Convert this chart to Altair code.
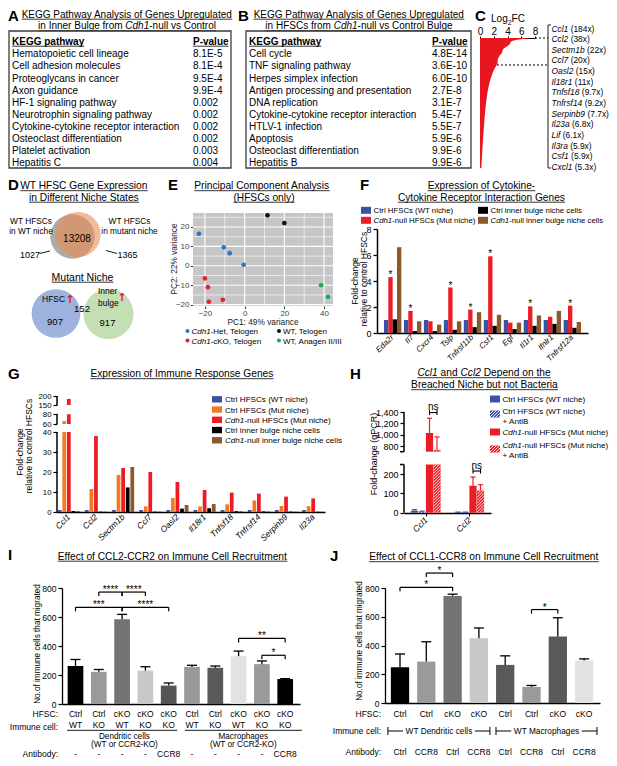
import math
import altair as alt
import pandas as pd

FONT = "Liberation Sans"
SYMBOL_FONT = "DejaVu Sans"

# ======================= DATA =======================
A_PATHWAYS = ["Hematopoietic cell lineage", "Cell adhesion molecules", "Proteoglycans in cancer",
              "Axon guidance", "HF-1 signaling pathway", "Neurotrophin signaling pathway",
              "Cytokine-cytokine receptor interaction", "Osteoclast differentiation",
              "Platelet activation", "Hepatitis C"]
A_PVALUES = ["8.1E-5", "8.1E-4", "9.5E-4", "9.9E-4", "0.002", "0.002", "0.002", "0.002", "0.003", "0.004"]

B_PATHWAYS = ["Cell cycle", "TNF signaling pathway", "Herpes simplex infection",
              "Antigen processing and presentation", "DNA replication",
              "Cytokine-cytokine receptor interaction", "HTLV-1 infection", "Apoptosis",
              "Osteoclast differentiation", "Hepatitis B"]
B_PVALUES = ["4.8E-14", "3.6E-10", "6.0E-10", "2.7E-8", "3.1E-7", "5.4E-7", "5.5E-7", "5.9E-6", "9.9E-6", "9.9E-6"]

C_RANK = [1, 2, 3, 4, 5, 6, 7, 8, 9, 10, 11, 12, 13, 14, 16, 18, 20, 22, 25, 29, 33, 38, 43, 49, 55, 63]
C_LOG2FC = [7.52, 5.25, 4.46, 4.32, 3.91, 3.46, 3.28, 3.20, 2.94, 2.77, 2.61, 2.56, 2.56, 2.41,
            2.05, 1.80, 1.60, 1.42, 1.20, 1.00, 0.85, 0.70, 0.58, 0.45, 0.33, 0.20]
C_GENES = ["Ccl1", "Ccl2", "Sectm1b", "Ccl7", "Oasl2", "Il18r1", "Tnfsf18", "Tnfrsf14",
           "Serpinb9", "Il23a", "Lif", "Il3ra", "Csf1", "Cxcl1"]
C_FOLDS = ["184x", "38x", "22x", "20x", "15x", "11x", "9.7x", "9.2x", "7.7x", "6.8x",
           "6.1x", "5.9x", "5.9x", "5.3x"]

VENN1_COUNTS = [1027, 13208, 1365]   # WT niche only, shared, mutant niche only
VENN2_COUNTS = [907, 152, 917]       # HFSC up only, shared, inner bulge up only

E_GROUP = ["het", "het", "het", "het", "cko", "cko", "cko", "cko", "wt", "wt", "ana", "ana"]
E_PC1 = [-23.0, -10.5, -7.5, -0.5, -20.0, -18.5, -18.0, -11.0, 11.5, 20.0, 38.5, 42.0]
E_PC2 = [16.5, 9.5, 6.5, 0.5, -6.5, -11.0, -18.5, -17.5, 26.0, 22.0, -10.0, -16.0]
E_ORDER = ["het", "cko", "wt", "ana"]

F_GENES = ["Eda2r", "Il7", "Cxcr4", "Tslp", "Tnfrsf11b", "Csf1", "Egf", "Il1r1", "Ifnlr1", "Tnfrsf12a"]
F_SERIES = ["ctrl_hfsc", "cdh1_hfsc", "ctrl_ib", "cdh1_ib"]
F_CTRL_HFSC = [1, 1, 1, 1, 1, 1, 1, 1, 1, 1]
F_CDH1_HFSC = [4.3, 1.7, 0.9, 3.5, 1.8, 5.9, 0.8, 2.05, 1.25, 2.1]
F_CTRL_IB = [1.05, 0.15, 0.15, 0.25, 0.45, 0.55, 0.3, 0.55, 0.7, 0.4]
F_CDH1_IB = [6.6, 0.9, 0.65, 0.9, 1.6, 1.4, 0.8, 1.35, 1.7, 0.85]
F_STAR = [True, True, False, True, True, True, False, True, False, True]

G_GENES = ["Ccl1", "Ccl2", "Sectm1b", "Ccl7", "Oasl2", "Il18r1", "Tnfsf18", "Tnfrsf14", "Serpinb9", "Il23a"]
G_SERIES = ["ctrl_wt", "ctrl_mut", "cdh1_mut", "ctrl_ib", "cdh1_ib"]
G_CTRL_WT = [1, 1, 1, 1, 1, 1, 1, 1, 1, 1]
G_CTRL_MUT = [66, 11.5, 18.5, 2.8, 7, 2.8, 3.8, 5.8, 3, 2.9]
G_CDH1_MUT = [184, 38, 22, 20, 15, 11, 9.7, 9.2, 7.7, 6.8]
G_CTRL_IB = [0.5, 0.2, 12.3, 0.2, 1.7, 1.9, 0.4, 0.3, 0.2, 0.1]
G_CDH1_IB = [0.5, 0.2, 22.5, 0.2, 3.5, 4.0, 0.4, 0.3, 0.2, 0.1]

H_GENES = ["Ccl1", "Ccl2"]
H_VALUES = [[10, 2], [5, 2], [1030, 140], [730, 115]]      # ctrl, ctrl+AntiB, cdh1, cdh1+AntiB
H_ERRORS = [[6, 1], [3, 1], [260, 45], [230, 30]]

I_HFSC = ["Ctrl", "Ctrl", "cKO", "cKO", "cKO", "Ctrl", "Ctrl", "cKO", "cKO", "cKO"]
I_IMMUNE = ["WT", "KO", "WT", "KO", "KO", "WT", "KO", "WT", "KO", "KO"]
I_ANTIBODY = ["-", "-", "-", "-", "CCR8", "-", "-", "-", "-", "CCR8"]
I_VALUES = [262, 222, 584, 230, 127, 255, 250, 330, 275, 172]
I_ERRORS = [45, 16, 34, 27, 18, 12, 12, 35, 22, 3]
I_SIG = [(1, 2, 772, "****"), (2, 3, 772, "****"), (0, 2, 667, "***"), (2, 4, 667, "****"),
         (7, 9, 452, "**"), (8, 9, 336, "*")]

J_HFSC = ["Ctrl", "Ctrl", "cKO", "cKO", "Ctrl", "Ctrl", "cKO", "cKO"]
J_ANTIBODY = ["Ctrl", "CCR8", "Ctrl", "CCR8", "Ctrl", "CCR8", "Ctrl", "CCR8"]
J_VALUES = [248, 288, 745, 450, 265, 112, 463, 295]
J_ERRORS = [93, 138, 12, 72, 63, 10, 130, 12]
J_SIG = [(1, 2, 904, "*"), (0, 2, 805, "*"), (5, 6, 650, "*")]

# ======================= STYLE =======================
BLUE = "#3a53a4"
RED = "#ec1c24"
ORANGE = "#f47a20"
BLACK = "#000000"
BROWN = "#8a5a2c"
F_COLORS = [BLUE, RED, BLACK, BROWN]
G_COLORS = [BLUE, ORANGE, RED, BLACK, BROWN]
H_COLORS = [BLUE, BLUE, RED, RED]
H_HATCHED = [False, True, False, True]
E_COLORS = ["#2a78c0", "#e3242b", "#111111", "#1fa85a"]
I_COLORS = ["#000000", "#9a9a9a", "#737373", "#c8c8c8", "#555555",
            "#9a9a9a", "#595959", "#e2e2e2", "#9a9a9a", "#000000"]
J_COLORS = ["#000000", "#9a9a9a", "#737373", "#c8c8c8", "#595959", "#9a9a9a", "#595959", "#e2e2e2"]

# ======================= TEXT METRICS (Arial-compatible) =======================
REG = {" ": 278, "!": 278, "(": 333, ")": 333, "*": 389, "+": 584, ",": 278, "-": 333, ".": 278,
       "/": 278, ":": 278, "%": 889}
for _c in "0123456789":
    REG[_c] = 556
REG.update(dict(zip("ABCDEFGHIJKLMNOPQRSTUVWXYZ",
                    [667, 667, 722, 722, 667, 611, 778, 722, 278, 500, 667, 556, 833, 722, 778, 667,
                     778, 722, 667, 611, 722, 667, 944, 667, 667, 611])))
REG.update(dict(zip("abcdefghijklmnopqrstuvwxyz",
                    [556, 556, 500, 556, 556, 278, 556, 556, 222, 222, 500, 222, 833, 556, 556, 556,
                     556, 333, 500, 278, 556, 500, 722, 500, 500, 500])))
BOLD = dict(REG)
BOLD.update(dict(zip("abcdefghijklmnopqrstuvwxyz",
                     [556, 611, 556, 611, 556, 333, 611, 611, 278, 278, 556, 278, 889, 611, 611, 611,
                      611, 389, 556, 333, 611, 556, 778, 556, 556, 500])))
BOLD.update({"A": 722, "B": 722, "K": 722})


def tw(s, size, bold=False):
    t = BOLD if bold else REG
    return sum(t.get(ch, 556) for ch in s) * size / 1000.0


ONE = [{"k": 0}]


def hatch_local(W, H, step=3.0):
    out = []
    c = -W + step * 0.5
    while c < H:
        us = max(0.0, -c)
        ue = min(W, H - c)
        if ue - us > 0.2:
            out.append((us, us + c, ue, ue + c))
        c += step
    return out


class Panel:
    """A panel whose view covers its whole box; the plot rectangle is placed with scale ranges."""

    def __init__(self, box, plot):
        self.bx0, self.by0, self.bx1, self.by1 = box
        self.px0, self.py0, self.px1, self.py1 = plot
        self.w = self.bx1 - self.bx0
        self.h = self.by1 - self.by0
        self.pw = self.px1 - self.px0
        self.ph = self.py1 - self.py0
        self.layers = []

    def X(self, ix):
        return float(ix - self.bx0)

    def Y(self, iy):
        return float(iy - self.by0)

    def xr(self):
        return [self.X(self.px0), self.X(self.px1)]

    def yr(self):
        return [self.Y(self.py1), self.Y(self.py0)]

    def off_left(self):
        return -float(self.px0 - self.bx0)

    def off_bottom(self):
        return -float(self.by1 - self.py1)

    def off_top(self):
        return -float(self.py0 - self.by0)

    def add(self, ch):
        self.layers.append(ch)

    def text(self, ix, iy, s, size=9.0, align="left", baseline="alphabetic", bold=False,
             italic=False, color="black", angle=None, font=FONT):
        kw = dict(font=font, fontSize=size, align=align, baseline=baseline, color=color)
        if bold:
            kw["fontWeight"] = "bold"
        if italic:
            kw["fontStyle"] = "italic"
        if angle is not None:
            kw["angle"] = angle
        self.add(alt.Chart(alt.Data(values=ONE)).mark_text(**kw).encode(
            x=alt.value(self.X(ix)), y=alt.value(self.Y(iy)), text=alt.value(s)))

    def rich(self, ix, iy, parts, size, align="left", underline=False, color="black", bold=False):
        widths = [tw(p, size, bold) for p, _ in parts]
        total = sum(widths)
        if align == "center":
            x0 = ix - total / 2.0
        elif align == "right":
            x0 = ix - total
        else:
            x0 = ix
        x = x0
        for (p, it), w in zip(parts, widths):
            s = p.strip(" ")
            lead = len(p) - len(p.lstrip(" "))
            if s:
                self.text(x + tw(" " * lead, size, bold), iy, s, size=size, italic=it, bold=bold, color=color)
            x += w
        if underline:
            self.line(x0, iy + 1.7, x0 + total, iy + 1.7, width=0.8, color=color)
        return x0, total

    def line(self, ix0, iy0, ix1, iy1, color="black", width=1.0, dash=None):
        kw = dict(color=color, strokeWidth=width)
        if dash:
            kw["strokeDash"] = dash
        self.add(alt.Chart(alt.Data(values=ONE)).mark_rule(**kw).encode(
            x=alt.value(self.X(ix0)), y=alt.value(self.Y(iy0)),
            x2=alt.value(self.X(ix1)), y2=alt.value(self.Y(iy1))))

    def rect(self, ix0, iy0, ix1, iy1, fill="black", stroke=None, sw=1.0, fill_opacity=1.0):
        kw = dict(fill=fill, fillOpacity=fill_opacity)
        if stroke:
            kw.update(stroke=stroke, strokeWidth=sw)
        self.add(alt.Chart(alt.Data(values=ONE)).mark_rect(**kw).encode(
            x=alt.value(self.X(ix0)), x2=alt.value(self.X(ix1)),
            y=alt.value(self.Y(iy0)), y2=alt.value(self.Y(iy1))))

    def circle(self, ix, iy, r, color, opacity=1.0):
        self.add(alt.Chart(alt.Data(values=ONE)).mark_circle(
            size=math.pi * r * r, color=color, opacity=opacity).encode(
            x=alt.value(self.X(ix)), y=alt.value(self.Y(iy))))

    def hatch_px(self, ix0, iy0, ix1, iy1, color="white", width=0.9, step=3.0):
        for (u0, t0, u1, t1) in hatch_local(ix1 - ix0, iy1 - iy0, step):
            self.line(ix0 + u0, iy1 - t0, ix0 + u1, iy1 - t1, color=color, width=width)

    def chart(self):
        bb = alt.Chart(alt.Data(values=ONE)).mark_rect(opacity=0).encode(
            x=alt.value(0), x2=alt.value(float(self.w)), y=alt.value(0), y2=alt.value(float(self.h)))
        return alt.layer(bb, *self.layers).properties(
            width=float(self.w), height=float(self.h)).resolve_axis(x="independent", y="independent")


def kegg_table(p, names, pvals, ix_name, ix_p):
    p.rect(p.px0, p.py0, p.px1, p.py1, fill="white", fill_opacity=0.0, stroke="#3c3c3c", sw=1.3)
    p.rich(ix_name, 43.5, [("KEGG pathway", False)], 10, bold=True, underline=True)
    p.rich(ix_p, 43.5, [("P-value", False)], 10, bold=True, underline=True)
    df = pd.DataFrame({"i": list(range(len(names))), "name": names, "p": pvals})
    ysc = alt.Scale(domain=[0, len(names) - 1], range=[p.Y(53.3), p.Y(162.3)], nice=False, zero=False)
    base = alt.Chart(df).encode(y=alt.Y("i:Q", scale=ysc, axis=None))
    p.add(base.mark_text(align="left", baseline="middle", font=FONT, fontSize=10).encode(
        x=alt.value(p.X(ix_name)), text="name:N"))
    p.add(base.mark_text(align="left", baseline="middle", font=FONT, fontSize=10).encode(
        x=alt.value(p.X(ix_p)), text="p:N"))


# ======================= PANEL A =======================
pA = Panel((8, 8, 238, 172), (9, 30, 231, 167))
pA.text(8, 19.5, "A", 15, bold=True)
pA.rich(127, 16.5, [("KEGG Pathway Analysis of Genes Upregulated", False)], 10, "center", underline=True)
pA.rich(127, 28, [("in Inner Bulge from ", False), ("Cdh1", True), ("-null vs Control", False)], 10,
        "center", underline=True)
kegg_table(pA, A_PATHWAYS, A_PVALUES, 12, 193)

# ======================= PANEL B =======================
pB = Panel((238, 8, 474, 172), (246, 30, 471, 167))
pB.text(238, 19.5, "B", 15, bold=True)
pB.rich(359, 16.5, [("KEGG Pathway Analysis of Genes Upregulated", False)], 10, "center", underline=True)
pB.rich(359, 28, [("in HFSCs from ", False), ("Cdh1", True), ("-null vs Control Bulge", False)], 10,
        "center", underline=True)
kegg_table(pB, B_PATHWAYS, B_PVALUES, 249, 432)

# ======================= PANEL C =======================
pC = Panel((474, 8, 609, 172), (480, 37, 535, 167))
pC.text(475, 19.5, "C", 15, bold=True)
_w1, _w2, _w3 = tw("Log", 10), tw("2", 7), tw("FC", 10)
_x0 = 508 - (_w1 + _w2 + _w3) / 2
pC.text(_x0, 21, "Log", 10)
pC.text(_x0 + _w1, 23.5, "2", 7)
pC.text(_x0 + _w1 + _w2, 21, "FC", 10)
cdf = pd.DataFrame({"rank": C_RANK, "fc": C_LOG2FC})
pC.add(alt.Chart(cdf).mark_area(orient="horizontal", color="#e8161e", interpolate="monotone").encode(
    y=alt.Y("rank:Q", scale=alt.Scale(domain=[1, 63], range=[pC.Y(37), pC.Y(167)], nice=False, zero=False),
            axis=None),
    x=alt.X("fc:Q", scale=alt.Scale(domain=[0, 8], range=pC.xr(), nice=False),
            axis=alt.Axis(orient="top", values=[0, 2, 4, 6, 8], title=None, labelFontSize=10,
                          tickSize=2, labelPadding=0, domainWidth=1.2, labelFlush=False, grid=False,
                          offset=pC.off_top()))))
pC.line(535, 37, 548, 37, dash=[2, 2], width=1)
pC.line(497, 64, 548, 64, dash=[2, 2], width=1)
pC.line(548, 24, 548, 167, width=0.9)
pC.line(548, 24, 551, 24, width=0.9)
pC.line(548, 167, 551, 167, width=0.9)
for _k, (_g, _f) in enumerate(zip(C_GENES, C_FOLDS)):
    _cy = 27.5 + _k * (166.0 - 27.5) / 13.0
    pC.rich(551.5, _cy + 3, [(_g, True), (" (" + _f + ")", False)], 8.4)

# ======================= PANEL D =======================
pD = Panel((8, 172, 165, 364), (8, 172, 165, 364))
pD.text(8, 189, "D", 15, bold=True)
pD.rich(84, 188, [("WT HFSC Gene Expression", False)], 10.2, "center", underline=True)
pD.rich(84, 199.5, [("in Different Niche States", False)], 10.2, "center", underline=True)
pD.circle(72.5, 235.5, 25, "#ababab")
pD.circle(78, 233.5, 25.5, "#ee8a4a", opacity=0.58)
pD.text(31, 223, "WT HFSCs", 8.3, align="center")
pD.text(31, 233, "in WT niche", 8.3, align="center")
pD.text(129.5, 223, "WT HFSCs", 8.3, align="center")
pD.text(129.5, 233, "in mutant niche", 8.3, align="center")
pD.text(77, 241, str(VENN1_COUNTS[1]), 10, align="center")
pD.text(30, 256.5, str(VENN1_COUNTS[0]), 9, align="center")
pD.text(127.5, 256.5, str(VENN1_COUNTS[2]), 9, align="center")
pD.line(39.5, 252.5, 50, 250, width=0.9)
pD.line(106, 249.5, 117, 252.5, width=0.9)
pD.rich(82.5, 279.5, [("Mutant Niche", False)], 10.5, "center", underline=True)
pD.circle(56, 312.5, 27.5, "#9db3dd")
pD.circle(108.5, 313, 28.3, "#b2d49c", opacity=0.75)
pD.text(42, 301, "HFSC", 8.5)
pD.text(70, 302, "↑", 11, align="center", color="#e3191c", bold=True, font=SYMBOL_FONT)
pD.text(98, 293, "Inner", 8.5)
pD.text(98, 305, "bulge", 8.5)
pD.text(122, 300, "↑", 11, align="center", color="#e3191c", bold=True, font=SYMBOL_FONT)
pD.text(55, 324, str(VENN2_COUNTS[0]), 9.5, align="center")
pD.text(82, 310.5, str(VENN2_COUNTS[1]), 9.5, align="center")
pD.text(107.5, 325, str(VENN2_COUNTS[2]), 9.5, align="center")

# ======================= PANEL E =======================
pE = Panel((165, 172, 345, 364), (193, 212, 333, 305))
pE.text(168, 189, "E", 15, bold=True)
pE.rich(262, 188, [("Principal Component Analysis", False)], 10.2, "center", underline=True)
pE.rich(264, 199.5, [("(HFSCs only)", False)], 10.2, "center", underline=True)
pE.rect(193, 212, 333, 305, fill="#c6c6c6")
exs = alt.Scale(domain=[-26, 44.5], range=pE.xr(), nice=False, zero=False)
eys = alt.Scale(domain=[-20.7, 27.2], range=pE.yr(), nice=False, zero=False)
for _vals, _wd in [([-10, 10, 30], 0.6), ([-20, 0, 20, 40], 1.1)]:
    pE.add(alt.Chart(pd.DataFrame({"v": _vals})).mark_rule(color="white", strokeWidth=_wd).encode(
        x=alt.X("v:Q", scale=exs, axis=None), y=alt.value(pE.Y(212)), y2=alt.value(pE.Y(305))))
for _vals, _wd in [([-15, -5, 5, 15, 25], 0.6), ([-20, -10, 0, 10, 20], 1.1)]:
    pE.add(alt.Chart(pd.DataFrame({"v": _vals})).mark_rule(color="white", strokeWidth=_wd).encode(
        y=alt.Y("v:Q", scale=eys, axis=None), x=alt.value(pE.X(193)), x2=alt.value(pE.X(333))))
_ecol = dict(zip(E_ORDER, E_COLORS))
edf = pd.DataFrame({"pc1": E_PC1, "pc2": E_PC2, "g": E_GROUP})
edf["col"] = [_ecol[g] for g in E_GROUP]
pE.add(alt.Chart(edf).mark_circle(size=22, opacity=1).encode(
    x=alt.X("pc1:Q", scale=exs, axis=alt.Axis(values=[-20, 0, 20, 40], title=None, grid=False, domain=False,
                                              tickColor="#333333", tickSize=2.5, labelFontSize=8,
                                              labelColor="#444444", labelPadding=1, labelFlush=False,
                                              offset=pE.off_bottom())),
    y=alt.Y("pc2:Q", scale=eys, axis=alt.Axis(values=[-20, -10, 0, 10, 20], title=None, grid=False,
                                              domain=False, tickColor="#333333", tickSize=2.5,
                                              labelFontSize=8, labelColor="#444444", labelPadding=1.5,
                                              labelFlush=False, offset=pE.off_left())),
    color=alt.Color("col:N", scale=None)))
pE.text(263, 324, "PC1: 49% variance", 8.3, align="center", color="#222222")
pE.text(175, 258, "PC2: 22% variance", 8.3, align="center", baseline="middle", angle=270, color="#222222")
pE.circle(187.5, 330, 2.3, E_COLORS[0])
pE.rich(191.5, 333, [("Cdh1", True), ("-Het, Telogen", False)], 8)
pE.circle(187.5, 339.5, 2.3, E_COLORS[1])
pE.rich(191.5, 342.5, [("Cdh1", True), ("-cKO, Telogen", False)], 8)
pE.circle(279, 330, 2.3, E_COLORS[2])
pE.rich(283, 333, [("WT, Telogen", False)], 8)
pE.circle(279, 339.5, 2.3, E_COLORS[3])
pE.rich(283, 342.5, [("WT, Anagen II/III", False)], 8)

# ======================= PANEL F =======================
pF = Panel((345, 172, 609, 364), (377, 228, 588, 332))
pF.text(360, 189, "F", 15, bold=True)
pF.rich(481.5, 188, [("Expression of Cytokine-", False)], 10.2, "center", underline=True)
pF.rich(481.5, 199.5, [("Cytokine Receptor Interaction Genes", False)], 10.2, "center", underline=True)
_fleg = [(361, 209.3, F_COLORS[0], [("Ctrl HFSCs (WT niche)", False)]),
         (361, 219.3, F_COLORS[1], [("Cdh1", True), ("-null HFSCs (Mut niche)", False)]),
         (478, 209.3, F_COLORS[2], [("Ctrl inner bulge niche cells", False)]),
         (478, 219.3, F_COLORS[3], [("Cdh1", True), ("-null inner bulge niche cells", False)])]
for _x, _y, _c, _parts in _fleg:
    pF.rect(_x, _y - 3.5, _x + 10, _y + 3.5, fill=_c)
    pF.rich(_x + 12.5, _y + 3, _parts, 7.8)
_frows = []
for _gi, _g in enumerate(F_GENES):
    for _s, _vals, _c in zip(F_SERIES, [F_CTRL_HFSC, F_CDH1_HFSC, F_CTRL_IB, F_CDH1_IB], F_COLORS):
        _frows.append({"gene": _g, "series": _s, "v": _vals[_gi], "col": _c,
                       "star": bool(F_STAR[_gi] and _s == F_SERIES[1])})
fdf = pd.DataFrame(_frows)
fxs = alt.Scale(domain=F_GENES, range=pF.xr(), paddingInner=0.13, paddingOuter=0.35)
fxo = alt.Scale(domain=F_SERIES, paddingInner=0.0, paddingOuter=0.0)
fys = alt.Scale(domain=[0, 8], range=pF.yr(), nice=False)
pF.add(alt.Chart(fdf).mark_bar().encode(
    x=alt.X("gene:N", scale=fxs, axis=alt.Axis(title=None, labelAngle=-45, labelAlign="right",
                                               labelBaseline="middle", labelFontStyle="italic",
                                               labelFontSize=8, ticks=False, labelPadding=3,
                                               domainWidth=1.5, offset=pF.off_bottom())),
    xOffset=alt.XOffset("series:N", scale=fxo),
    y=alt.Y("v:Q", scale=fys, axis=alt.Axis(values=[0, 2, 4, 6, 8], title=None, labelFontSize=9, tickSize=4,
                                            tickWidth=1.3, domainWidth=1.5, labelPadding=2,
                                            offset=pF.off_left())),
    color=alt.Color("col:N", scale=None)))
pF.add(alt.Chart(fdf[fdf["star"]]).mark_text(fontSize=10, baseline="alphabetic", dy=1, font=FONT).encode(
    x=alt.X("gene:N", scale=fxs, axis=None),
    xOffset=alt.XOffset("series:N", scale=fxo),
    y=alt.Y("v:Q", scale=fys, axis=None),
    text=alt.value("*")))
pF.text(355, 280, "Fold-change", 8.5, align="center", baseline="middle", angle=270)
pF.text(364, 278, "relative to control HFSCs", 8.5, align="center", baseline="middle", angle=270)

# ======================= PANEL G =======================
pG = Panel((8, 364, 345, 544), (57, 395, 325, 511))
pG.text(8, 378, "G", 15, bold=True)
pG.rich(182, 376, [("Expression of Immune Response Genes", False)], 10.2, "center", underline=True)
gys = alt.Scale(domain=[0, 40, 60, 80, 150, 200],
                range=[pG.Y(511), pG.Y(431), pG.Y(423), pG.Y(413.3), pG.Y(404), pG.Y(395)],
                nice=False, zero=False)
gxs = alt.Scale(domain=G_GENES, range=pG.xr(), paddingInner=0.17, paddingOuter=0.02)
gxo = alt.Scale(domain=G_SERIES, paddingInner=0.18, paddingOuter=0.05)
_grows = []
for _gi, _g in enumerate(G_GENES):
    for _s, _vals, _c in zip(G_SERIES, [G_CTRL_WT, G_CTRL_MUT, G_CDH1_MUT, G_CTRL_IB, G_CDH1_IB], G_COLORS):
        _v = _vals[_gi]
        _pieces = [(0, min(_v, 40))]
        if _v > 60:
            _pieces.append((60, min(_v, 80)))
        if _v > 150:
            _pieces.append((150, min(_v, 200)))
        for _lo, _hi in _pieces:
            _grows.append({"gene": _g, "series": _s, "lo": _lo, "hi": _hi, "col": _c})
gdf = pd.DataFrame(_grows)
pG.add(alt.Chart(gdf).mark_bar().encode(
    x=alt.X("gene:N", scale=gxs, axis=alt.Axis(title=None, labelAngle=-45, labelAlign="right",
                                               labelBaseline="middle", labelFontStyle="italic",
                                               labelFontSize=8.5, ticks=False, labelPadding=3,
                                               domainWidth=1.5, offset=pG.off_bottom())),
    xOffset=alt.XOffset("series:N", scale=gxo),
    y=alt.Y("lo:Q", scale=gys, axis=alt.Axis(values=[0, 10, 20, 30, 40, 60, 80, 150, 200], title=None,
                                             domain=False, labelOverlap=False, labelFontSize=7.8, tickSize=4,
                                             tickWidth=1.2, labelPadding=2, offset=pG.off_left())),
    y2="hi:Q",
    color=alt.Color("col:N", scale=None)))
pG.add(alt.Chart(pd.DataFrame({"lo": [0, 60, 150], "hi": [40, 80, 200]})).mark_rule(strokeWidth=1.5).encode(
    x=alt.value(pG.X(57)), y=alt.Y("lo:Q", scale=gys, axis=None), y2="hi:Q"))
_gleg = [(G_COLORS[0], [("Ctrl HFSCs (WT niche)", False)]),
         (G_COLORS[1], [("Ctrl HFSCs (Mut niche)", False)]),
         (G_COLORS[2], [("Cdh1", True), ("-null HFSCs (Mut niche)", False)]),
         (G_COLORS[3], [("Ctrl inner bulge niche cells", False)]),
         (G_COLORS[4], [("Cdh1", True), ("-null inner bulge niche cells", False)])]
for _k, (_c, _parts) in enumerate(_gleg):
    _y = 398.3 + _k * 10.25
    pG.rect(212, _y - 3.2, 222, _y + 3.2, fill=_c)
    pG.rich(225, _y + 3, _parts, 8.1)
pG.text(20, 451, "Fold-change", 8.5, align="center", baseline="middle", angle=270)
pG.text(29, 445, "relative to control HFSCs", 8.5, align="center", baseline="middle", angle=270)

# ======================= PANEL H =======================
pH = Panel((345, 364, 609, 544), (404, 408, 491, 512))
pH.text(350, 378, "H", 15, bold=True)
pH.rich(484, 375, [("Ccl1", True), (" and ", False), ("Ccl2", True), (" Depend on the", False)], 10.2,
        "center", underline=True)
pH.rich(484.5, 387, [("Breached Niche but not Bacteria", False)], 10.2, "center", underline=True)
HX0, HX1 = -0.5, 1.5
KX = pH.pw / (HX1 - HX0)
KY_LOW = (511.7 - 463.5) / 250.0
KY_UP = (450.7 - 408.2) / 750.0
hys = alt.Scale(domain=[0, 250, 700, 1450],
                range=[pH.Y(511.7), pH.Y(463.5), pH.Y(450.7), pH.Y(408.2)], nice=False, zero=False)
hxs = alt.Scale(domain=[HX0, HX1], range=pH.xr(), nice=False, zero=False)
SUB = 7.5 / KX
HALF = 3.6 / KX
CAPH = 2.6 / KX
_hrect, _hhatch, _herr, _hcap = [], [], [], []
_xc = {}
for _g in range(len(H_GENES)):
    for _s in range(4):
        _v = H_VALUES[_s][_g]
        _e = H_ERRORS[_s][_g]
        _x = _g + (_s - 1.5) * SUB
        _xc[(_g, _s)] = _x
        _col = H_COLORS[_s]
        _pieces = [(0, min(_v, 250))] + ([(700, _v)] if _v > 700 else [])
        for _lo, _hi in _pieces:
            _hrect.append({"x0": _x - HALF, "x1": _x + HALF, "lo": _lo, "hi": _hi, "col": _col})
            if H_HATCHED[_s]:
                _ky = KY_LOW if _lo < 250 else KY_UP
                for (_u0, _t0, _u1, _t1) in hatch_local(2 * HALF * KX, (_hi - _lo) * _ky, 3.0):
                    _hhatch.append({"x0": _x - HALF + _u0 / KX, "y0": _lo + _t0 / _ky,
                                    "x1": _x - HALF + _u1 / KX, "y1": _lo + _t1 / _ky})
        _herr.append({"x": _x, "y0": _v, "y1": _v + _e, "col": _col})
        _hcap.append({"x0": _x - CAPH, "x1": _x + CAPH, "y": _v + _e, "col": _col})
_labexpr = " : ".join("datum.value == %d ? '%s'" % (i, g) for i, g in enumerate(H_GENES[:-1])) + \
    " : '%s'" % H_GENES[-1]
pH.add(alt.Chart(pd.DataFrame(_hrect)).mark_rect().encode(
    x=alt.X("x0:Q", scale=hxs, axis=alt.Axis(values=list(range(len(H_GENES))), labelExpr=_labexpr,
                                             labelAngle=-45, labelAlign="right", labelBaseline="middle",
                                             labelFontStyle="italic", labelFontSize=8.5, title=None,
                                             tickSize=3, domainWidth=1.5, labelFlush=False, labelPadding=2,
                                             grid=False, offset=pH.off_bottom())),
    x2="x1:Q",
    y=alt.Y("lo:Q", scale=hys, axis=alt.Axis(values=[0, 100, 200, 800, 1000, 1200, 1400], title=None,
                                             domain=False, labelOverlap=False, labelFontSize=9, tickSize=4,
                                             tickWidth=1.2, labelPadding=2, offset=pH.off_left())),
    y2="hi:Q",
    color=alt.Color("col:N", scale=None)))
pH.add(alt.Chart(pd.DataFrame(_hhatch)).mark_rule(color="white", strokeWidth=0.9).encode(
    x=alt.X("x0:Q", scale=hxs, axis=None), x2="x1:Q",
    y=alt.Y("y0:Q", scale=hys, axis=None), y2="y1:Q"))
pH.add(alt.Chart(pd.DataFrame(_herr)).mark_rule(strokeWidth=1.2).encode(
    x=alt.X("x:Q", scale=hxs, axis=None), y=alt.Y("y0:Q", scale=hys, axis=None), y2="y1:Q",
    color=alt.Color("col:N", scale=None)))
pH.add(alt.Chart(pd.DataFrame(_hcap)).mark_rule(strokeWidth=1.2).encode(
    x=alt.X("x0:Q", scale=hxs, axis=None), x2="x1:Q", y=alt.Y("y:Q", scale=hys, axis=None),
    color=alt.Color("col:N", scale=None)))
pH.add(alt.Chart(pd.DataFrame({"lo": [0, 700], "hi": [250, 1400]})).mark_rule(strokeWidth=1.5).encode(
    x=alt.value(pH.X(404)), y=alt.Y("lo:Q", scale=hys, axis=None), y2="hi:Q"))
pH.add(alt.Chart(pd.DataFrame({"v": [250, 700]})).mark_rule(strokeWidth=1.5).encode(
    x=alt.value(pH.X(400)), x2=alt.value(pH.X(404)), y=alt.Y("v:Q", scale=hys, axis=None)))
_ns_h = [1390, 216]
_ns_d = [2.5 / KY_UP, 2.5 / KY_LOW]
_nsrows, _nsends = [], []
for _g in range(len(H_GENES)):
    _a, _b = _xc[(_g, 2)], _xc[(_g, 3)]
    _nsrows.append({"a": _a, "b": _b, "m": (_a + _b) / 2, "h": _ns_h[_g]})
    for _xx in (_a, _b):
        _nsends.append({"x": _xx, "y0": _ns_h[_g] - _ns_d[_g], "y1": _ns_h[_g] + _ns_d[_g]})
pH.add(alt.Chart(pd.DataFrame(_nsrows)).mark_rule(strokeWidth=1.1).encode(
    x=alt.X("a:Q", scale=hxs, axis=None), x2="b:Q", y=alt.Y("h:Q", scale=hys, axis=None)))
pH.add(alt.Chart(pd.DataFrame(_nsends)).mark_rule(strokeWidth=1.1).encode(
    x=alt.X("x:Q", scale=hxs, axis=None), y=alt.Y("y0:Q", scale=hys, axis=None), y2="y1:Q"))
pH.add(alt.Chart(pd.DataFrame(_nsrows)).mark_text(fontSize=10, baseline="alphabetic", dy=-2.5, font=FONT).encode(
    x=alt.X("m:Q", scale=hxs, axis=None), y=alt.Y("h:Q", scale=hys, axis=None), text=alt.value("ns")))
pH.text(374, 453, "Fold-change (qPCR)", 9, align="center", baseline="middle", angle=270)
_hleg = [(398, BLUE, False, [[("Ctrl HFSCs (WT niche)", False)]], [401]),
         (413, BLUE, True, [[("Ctrl HFSCs (WT niche)", False)], [("+ AntiB", False)]], [413, 422.5]),
         (431, RED, False, [[("Cdh1", True), ("-null HFSCs (Mut niche)", False)]], [434]),
         (448, RED, True, [[("Cdh1", True), ("-null HFSCs (Mut niche)", False)], [("+ AntiB", False)]],
          [447, 456.5])]
for _y, _c, _hat, _lines, _bls in _hleg:
    pH.rect(490, _y - 3.5, 500, _y + 3.5, fill=_c)
    if _hat:
        pH.hatch_px(490, _y - 3.5, 500, _y + 3.5, color="white", width=0.9, step=3.0)
    for _parts, _bl in zip(_lines, _bls):
        pH.rich(502.5, _bl, _parts, 8.1)


# ======================= PANELS I / J =======================
def recruit(p, values, errors, colors, step, first_off, bar_w, sigs):
    n = len(values)
    xs = alt.Scale(domain=[-first_off / step, (p.pw - first_off) / step], range=p.xr(), nice=False, zero=False)
    ys = alt.Scale(domain=[0, 800], range=p.yr(), nice=False, zero=False)
    half = bar_w / 2.0 / step
    cap = 5.0 / step
    ky = p.ph / 800.0
    df = pd.DataFrame({"idx": list(range(n)), "v": values, "e": errors, "col": colors})
    df["x0"] = df["idx"] - half
    df["x1"] = df["idx"] + half
    df["zero"] = 0.0
    df["top"] = df["v"] + df["e"]
    df["c0"] = df["idx"] - cap
    df["c1"] = df["idx"] + cap
    yaxis = alt.Axis(values=[0, 200, 400, 600, 800], title=None, labelFontSize=8.5, tickSize=4, tickWidth=1.2,
                     domainWidth=1.3, labelPadding=2, grid=False, offset=p.off_left())
    xaxis = alt.Axis(labels=False, ticks=False, title=None, domainWidth=1.3, grid=False, offset=p.off_bottom())
    base = alt.Chart(df)
    p.add(base.mark_rect().encode(
        x=alt.X("x0:Q", scale=xs, axis=xaxis), x2="x1:Q",
        y=alt.Y("zero:Q", scale=ys, axis=yaxis), y2="v:Q",
        color=alt.Color("col:N", scale=None)))
    p.add(base.mark_rule(color="black", strokeWidth=1.3).encode(
        x=alt.X("idx:Q", scale=xs, axis=None), y=alt.Y("v:Q", scale=ys, axis=None), y2="top:Q"))
    p.add(base.mark_rule(color="black", strokeWidth=1.3).encode(
        x=alt.X("c0:Q", scale=xs, axis=None), x2="c1:Q", y=alt.Y("top:Q", scale=ys, axis=None)))
    d = 4.0 / ky
    sdf = pd.DataFrame([{"a": a, "b": b, "h": h, "lab": lab, "m": (a + b) / 2.0} for a, b, h, lab in sigs])
    ends = pd.DataFrame([{"x": xx, "h": h, "hl": h - d} for a, b, h, _ in sigs for xx in (a, b)])
    p.add(alt.Chart(sdf).mark_rule(color="black", strokeWidth=1.2).encode(
        x=alt.X("a:Q", scale=xs, axis=None), x2="b:Q", y=alt.Y("h:Q", scale=ys, axis=None)))
    p.add(alt.Chart(ends).mark_rule(color="black", strokeWidth=1.2).encode(
        x=alt.X("x:Q", scale=xs, axis=None), y=alt.Y("h:Q", scale=ys, axis=None), y2="hl:Q"))
    p.add(alt.Chart(sdf).mark_text(fontSize=10, baseline="alphabetic", dy=1, font=FONT).encode(
        x=alt.X("m:Q", scale=xs, axis=None), y=alt.Y("h:Q", scale=ys, axis=None), text="lab:N"))
    return xs


def row_text(p, xs, labels, iy, size=8.5):
    df = pd.DataFrame({"idx": list(range(len(labels))), "t": labels})
    p.add(alt.Chart(df).mark_text(fontSize=size, font=FONT, baseline="alphabetic", align="center").encode(
        x=alt.X("idx:Q", scale=xs, axis=None), y=alt.value(p.Y(iy)), text="t:N"))


def scaled_text(p, xs, x, iy, s, size=8.5):
    df = pd.DataFrame({"x": [x], "t": [s]})
    p.add(alt.Chart(df).mark_text(fontSize=size, font=FONT, baseline="alphabetic", align="center").encode(
        x=alt.X("x:Q", scale=xs, axis=None), y=alt.value(p.Y(iy)), text="t:N"))


def scaled_hline(p, xs, x0, x1, iy, width=1.0):
    df = pd.DataFrame({"x0": [x0], "x1": [x1]})
    p.add(alt.Chart(df).mark_rule(color="black", strokeWidth=width).encode(
        x=alt.X("x0:Q", scale=xs, axis=None), x2="x1:Q", y=alt.value(p.Y(iy))))


def scaled_vline(p, xs, x, iy0, iy1, width=1.0):
    df = pd.DataFrame({"x": [x]})
    p.add(alt.Chart(df).mark_rule(color="black", strokeWidth=width).encode(
        x=alt.X("x:Q", scale=xs, axis=None), y=alt.value(p.Y(iy0)), y2=alt.value(p.Y(iy1))))


pI = Panel((8, 544, 303, 758), (62, 587, 300, 703))
pI.text(8, 559, "I", 15, bold=True)
pI.rich(172.5, 558.5, [("Effect of CCL2-CCR2 on Immune Cell Recruitment", False)], 10.2, "center",
        underline=True)
IXS = recruit(pI, I_VALUES, I_ERRORS, I_COLORS, 23.3, 13.5, 15.7, I_SIG)
pI.text(38, 643, "No.of immune cells that migrated", 8.2, align="center", baseline="middle", angle=270)
pI.text(58, 715.5, "HFSC:", 8.5, align="right")
row_text(pI, IXS, I_HFSC, 715.5)
pI.text(58, 729, "Immune cell:", 8.5, align="right")
row_text(pI, IXS, I_IMMUNE, 727)
scaled_hline(pI, IXS, -0.36, 4.36, 729.3, 0.9)
scaled_hline(pI, IXS, 4.7, 9.72, 729.3, 0.9)
scaled_text(pI, IXS, 2.1, 737.8, "Dendritic cells", 8.2)
scaled_text(pI, IXS, 2.1, 745.8, "(WT or CCR2-KO)", 8.2)
scaled_text(pI, IXS, 7.2, 737.8, "Macrophages", 8.2)
scaled_text(pI, IXS, 7.2, 745.8, "(WT or CCR2-KO)", 8.2)
pI.text(58, 755.5, "Antibody:", 8.5, align="right")
row_text(pI, IXS, I_ANTIBODY, 755.5)

pJ = Panel((303, 544, 609, 758), (385, 587, 600, 702))
pJ.text(330, 560, "J", 15, bold=True)
pJ.rich(484, 559, [("Effect of CCL1-CCR8 on Immune Cell Recruitment", False)], 10.2, "center",
        underline=True)
JXS = recruit(pJ, J_VALUES, J_ERRORS, J_COLORS, 26.3, 15.0, 18.3, J_SIG)
pJ.text(360, 640, "No.of immune cells that migrated", 8.2, align="center", baseline="middle", angle=270)
pJ.text(381, 716, "HFSC:", 8.5, align="right")
row_text(pJ, JXS, J_HFSC, 716)
pJ.text(381, 733, "Immune cell:", 8.5, align="right")
for _lab, _a, _b in [("WT Dendritic cells", -0.46, 3.42), ("WT Macrophages", 3.65, 7.49)]:
    _m = (_a + _b) / 2.0
    _hw = (tw(_lab, 8.3) / 2.0 + 2.5) / 26.3
    scaled_text(pJ, JXS, _m, 733, _lab, 8.3)
    scaled_hline(pJ, JXS, _a, _m - _hw, 730, 1.0)
    scaled_hline(pJ, JXS, _m + _hw, _b, 730, 1.0)
    scaled_vline(pJ, JXS, _a, 726, 734, 1.0)
    scaled_vline(pJ, JXS, _b, 726, 734, 1.0)
pJ.text(381, 754, "Antibody:", 8.5, align="right")
row_text(pJ, JXS, J_ANTIBODY, 754)

# ======================= ASSEMBLY =======================
IND = dict(color="independent", xOffset="independent")
row1 = alt.hconcat(pA.chart(), pB.chart(), pC.chart(), spacing=0).resolve_scale(**IND)
row2 = alt.hconcat(pD.chart(), pE.chart(), pF.chart(), spacing=0).resolve_scale(**IND)
row3 = alt.hconcat(pG.chart(), pH.chart(), spacing=0).resolve_scale(**IND)
row4 = alt.hconcat(pI.chart(), pJ.chart(), spacing=0).resolve_scale(**IND)
chart = alt.vconcat(row1, row2, row3, row4, spacing=0).resolve_scale(**IND).properties(padding=0)
chart = chart.configure_view(stroke=None).configure_axis(
    grid=False, labelFont=FONT, titleFont=FONT, labelColor="black", domainColor="black",
    tickColor="black", zindex=1).configure_text(font=FONT)
chart.save("out.html", embed_options={"renderer": "svg", "actions": False})
